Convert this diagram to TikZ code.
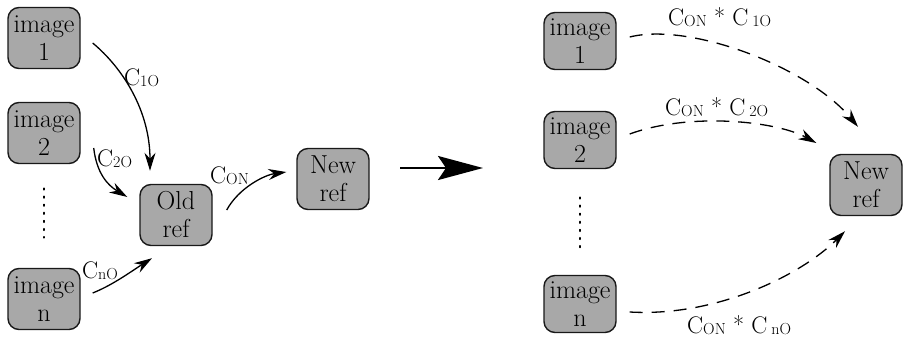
\documentclass[tikz,border=0pt]{standalone}
\usetikzlibrary{arrows.meta,calc}
\newcommand\sbs[1]{\raisebox{-1.5pt}{\fontsize{16}{16}\selectfont #1}}
\begin{document}
\begin{tikzpicture}[x=1pt,y=-1pt,
  box/.style={draw=black!90, line width=1.4pt, fill=gray!68, rounded corners=11pt,
    minimum width=72pt, minimum height=61pt, inner sep=0pt, align=center,
    font=\rmfamily\fontsize{26}{28}\selectfont},
  rbox/.style={box, minimum height=57pt},
  arr/.style={line width=1.3pt, -{Stealth[length=18pt,width=11pt]}},
  darr/.style={arr, dash pattern=on 13pt off 9pt},
  lbl/.style={font=\rmfamily\fontsize{24}{24}\selectfont, inner sep=0pt, anchor=base west},
  vdots/.style={line width=1.6pt, dash pattern=on 1.6pt off 6.5pt, line cap=round}]
\useasboundingbox (0,0) rectangle (908,338);
% left part
\node[box] (i1) at (44,38) {image\\1};
\node[box] (i2) at (44,133) {image\\2};
\node[box] (in) at (44,299) {image\\n};
\node[box] (old) at (176,215) {Old\\ref};
\node[box] (new) at (333,179) {New\\ref};
\draw[vdots, shorten <=24pt, shorten >=30pt] (i2.south) -- (in.north);
\draw[arr] ($(i1.east)+(12,5)$) .. controls +(30,25) and +(0,-60) .. ($(old.north)+(-26,-13)$);
\draw[arr] ($(i2.east)+(13,15)$) .. controls +(3,25) and +(-20,-12) .. ($(old.west)+(-12,-18)$);
\draw[arr] ($(in.east)+(12,-6)$) .. controls +(20,-8) and +(-22,14) .. ($(old.south)+(-24,12)$);
\draw[arr] ($(old.east)+(14,-5)$) .. controls +(12,-22) and +(-22,3) .. ($(new.west)+(-10,-7)$);
\node[lbl] (l1) at (124,85) {C\sbs{1O}};
\node[lbl] (l2) at (97,166) {C\sbs{2O}};
\node[lbl] (ln) at (82,278) {C\sbs{nO}};
\node[lbl] (lon) at (210,183) {C\sbs{ON}};
% big arrow
\coordinate (ba) at (400,168);
\coordinate (bb) at (483,168);
\draw[line width=2.5pt, -{Stealth[length=45pt,width=24pt,inset=8pt]}] (ba) -- (bb);
% right part
\node[rbox] (r1) at (580,41) {image\\1};
\node[rbox] (r2) at (580,140) {image\\2};
\node[rbox] (rn) at (580,304) {image\\n};
\node[box] (rnew) at (866,185) {New\\ref};
\draw[vdots, shorten <=28pt, shorten >=27pt] (r2.south) -- (rn.north);
\draw[darr] ($(r1.east)+(13,-4)$) .. controls +(60,-15) and +(-50,-60) .. ($(rnew.north)+(-8,-27)$);
\draw[darr] ($(r2.east)+(13,-6)$) .. controls +(60,-22) and +(-40,-22) .. ($(rnew.west)+(-13,-42)$);
\draw[darr] ($(rn.east)+(13,8)$) .. controls +(85,5) and +(-45,45) .. ($(rnew.south)+(-21,15)$);
\node[lbl] (m1) at (668,25) {C\sbs{ON} * C\,\sbs{1O}};
\node[lbl] (m2) at (665,115) {C\sbs{ON} * C\,\sbs{2O}};
\node[lbl] (mn) at (687,333) {C\sbs{ON} * C\,\sbs{nO}};
\end{tikzpicture}
\end{document}
